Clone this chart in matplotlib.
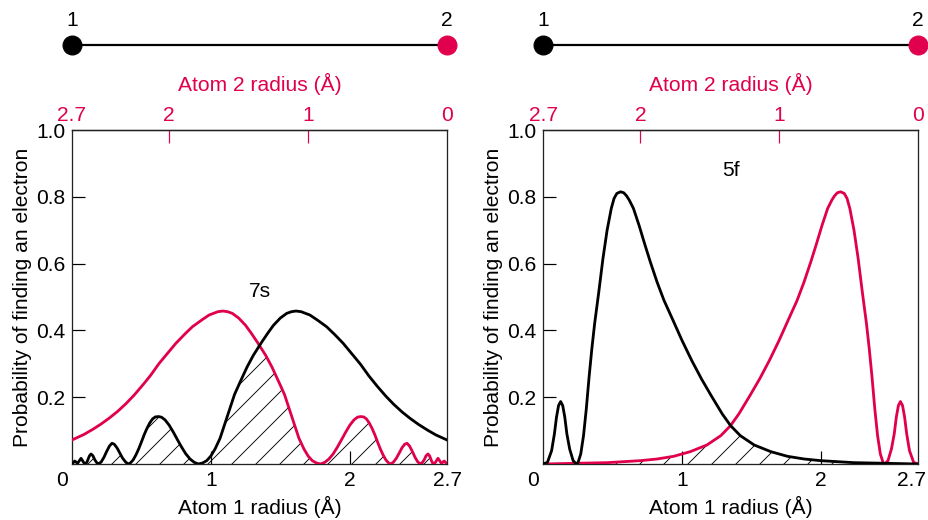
import matplotlib
matplotlib.use("Agg")
import matplotlib.pyplot as plt
import matplotlib.transforms as mtransforms
import numpy as np

plt.rcParams['font.family'] = ['Liberation Sans', 'DejaVu Sans']
plt.rcParams['hatch.linewidth'] = 0.9

RED = '#e0004d'
BOND = 2.7  # distance between the two nuclei (Å)
FS = 21

# 7s radial probability vs distance from its own nucleus
r_7s = [0.0, 0.02, 0.04, 0.065, 0.085, 0.10, 0.112, 0.125, 0.137, 0.15, 0.165, 0.18, 0.19,
        0.21, 0.23, 0.25, 0.27, 0.288, 0.305, 0.325, 0.345, 0.365, 0.385, 0.405,
        0.42, 0.44, 0.46, 0.48, 0.50, 0.52, 0.54, 0.56, 0.58, 0.60, 0.624, 0.645,
        0.67, 0.70, 0.73, 0.76, 0.79, 0.82, 0.85, 0.88, 0.91,
        0.94, 0.97, 1.0, 1.03, 1.066, 1.10, 1.138, 1.17, 1.21, 1.26, 1.305, 1.366,
        1.41, 1.45, 1.50, 1.546, 1.58, 1.613, 1.65, 1.713, 1.77, 1.833, 1.893, 1.953,
        2.013, 2.073, 2.133, 2.193, 2.253, 2.313, 2.373, 2.433, 2.493, 2.553, 2.62, 2.7]
p_7s = [0.0, 0.009, 0.002, 0.017, 0.004, 0.0, 0.010, 0.024, 0.030, 0.025, 0.012, 0.003, 0.0,
        0.006, 0.020, 0.038, 0.054, 0.062, 0.059, 0.048, 0.032, 0.017, 0.006, 0.0,
        0.003, 0.012, 0.027, 0.045, 0.066, 0.088, 0.107, 0.123, 0.135, 0.141, 0.142, 0.140,
        0.132, 0.116, 0.095, 0.072, 0.050, 0.030, 0.015, 0.005, 0.0,
        0.003, 0.010, 0.024, 0.045, 0.077, 0.120, 0.168, 0.208, 0.245, 0.290, 0.325, 0.365,
        0.392, 0.415, 0.437, 0.451, 0.456, 0.458, 0.456, 0.446, 0.430, 0.411, 0.387, 0.361,
        0.331, 0.301, 0.266, 0.235, 0.206, 0.180, 0.157, 0.137, 0.119, 0.103, 0.087, 0.072]

# 5f radial probability
r_5f = [0.0, 0.03, 0.06, 0.08, 0.095, 0.11, 0.125, 0.14, 0.155, 0.17, 0.19, 0.215, 0.238,
        0.25, 0.27, 0.29, 0.31, 0.33, 0.35, 0.37, 0.40, 0.43, 0.46, 0.49, 0.51, 0.53,
        0.557, 0.58, 0.60, 0.62, 0.65, 0.69, 0.73, 0.77, 0.82, 0.87, 0.93, 1.0, 1.07,
        1.14, 1.21, 1.29, 1.35, 1.42, 1.52, 1.64, 1.76, 1.88, 2.0, 2.24, 2.48, 2.7]
p_5f = [0.0, 0.005, 0.04, 0.09, 0.14, 0.175, 0.187, 0.175, 0.14, 0.09, 0.045, 0.01, 0.0,
        0.004, 0.03, 0.085, 0.165, 0.26, 0.345, 0.42, 0.515, 0.615, 0.70, 0.765, 0.795, 0.81,
        0.815, 0.812, 0.803, 0.79, 0.765, 0.715, 0.66, 0.607, 0.545, 0.49, 0.435, 0.37, 0.31,
        0.255, 0.205, 0.15, 0.115, 0.085, 0.057, 0.037, 0.023, 0.015, 0.01, 0.004, 0.002, 0.0]

y_ticks = [0.2, 0.4, 0.6, 0.8, 1.0]
x1_ticks = [0, 1, 2, 2.7]
x2_ticks = [2.7, 2, 1, 0]

W, H = 928, 520


def px_rect(left, top, right, bottom):
    return [left / W, 1 - bottom / H, (right - left) / W, (bottom - top) / H]


def shift_label(fig, label, dx):
    off = mtransforms.ScaledTranslation(dx / 72, 0, fig.dpi_scale_trans)
    label.set_transform(label.get_transform() + off)


def draw_panel(fig, left, right, r, p, name, name_y, last_shift=0):
    top, bottom = 130, 464
    ax = fig.add_axes(px_rect(left, top, right, bottom))
    r = np.asarray(r)
    p = np.asarray(p)

    # atom 1 curve as read, atom 2 curve is the same orbital seen from the other nucleus
    x_all = np.union1d(r, BOND - r)
    black = np.interp(x_all, r, p)
    red = np.interp(x_all, (BOND - r)[::-1], p[::-1])
    overlap = np.minimum(black, red)

    ax.fill_between(x_all, 0, overlap, facecolor='none', edgecolor='black',
                    hatch='/', linewidth=0, zorder=1)
    ax.plot(x_all, red, color=RED, lw=2.8, zorder=3, solid_joinstyle='round')
    ax.plot(x_all, black, color='black', lw=2.8, zorder=4, solid_joinstyle='round')

    ax.set_xlim(0, BOND)
    ax.set_ylim(0, 1.0)
    for s in ax.spines.values():
        s.set_linewidth(1.3)
        s.set_color('#222222')

    ax.set_yticks(y_ticks)
    ax.set_yticklabels([f'{v:.1f}' for v in y_ticks])
    ax.set_xticks(x1_ticks)
    ax.set_xticklabels(['0', '1', '2', '2.7'])
    ax.tick_params(direction='in', length=13, width=1.2, labelsize=FS, pad=7)
    ticks = ax.xaxis.get_major_ticks()
    for t in (ticks[0], ticks[-1]):
        t.tick1line.set_visible(False)
    ax.yaxis.get_major_ticks()[-1].tick1line.set_visible(False)
    labels = ax.get_xticklabels()
    shift_label(fig, labels[0], -10)
    if last_shift:
        shift_label(fig, labels[-1], last_shift)

    ax.set_xlabel('Atom 1 radius (Å)', fontsize=FS, labelpad=6)
    ax.set_ylabel('Probability of finding an electron', fontsize=FS, labelpad=4)

    sec = ax.secondary_xaxis('top', functions=(lambda x: BOND - x, lambda x: BOND - x))
    sec.set_xticks(x2_ticks)
    sec.set_xticklabels(['2.7', '2', '1', '0'])
    sec.tick_params(direction='in', length=13, width=1.2, color=RED,
                    labelcolor=RED, labelsize=FS, pad=5)
    sec.spines['top'].set_color('#222222')
    sec.spines['top'].set_linewidth(1.3)
    sticks = sec.xaxis.get_major_ticks()
    for t in (sticks[0], sticks[-1]):
        t.tick1line.set_visible(False)
        t.tick2line.set_visible(False)
    sec.set_xlabel('Atom 2 radius (Å)', fontsize=FS, color=RED, labelpad=15)

    ax.text(1.35, name_y, name, fontsize=FS, ha='center', va='center', zorder=5)

    # bond diagram above the panel, y in pixels
    axd = fig.add_axes(px_rect(left, 5, right, 60))
    axd.set_xlim(0, BOND)
    axd.set_ylim(60, 5)
    axd.axis('off')
    axd.plot([0, BOND], [45, 45], color='black', lw=2.2, zorder=1)
    axd.plot([0], [45], 'o', color='black', ms=19, clip_on=False, zorder=2)
    axd.plot([BOND], [45], 'o', color=RED, ms=19, clip_on=False, zorder=2)
    axd.text(0, 20, '1', fontsize=FS, ha='center', va='center')
    axd.text(BOND, 20, '2', fontsize=FS, ha='center', va='center')
    return ax


fig = plt.figure(figsize=(W / 72, H / 72), dpi=72)
draw_panel(fig, 72, 447, r_7s, p_7s, '7s', 0.515)
draw_panel(fig, 543.3, 917.8, r_5f, p_5f, '5f', 0.88, last_shift=-6)
fig.savefig('out.png', dpi=72)
